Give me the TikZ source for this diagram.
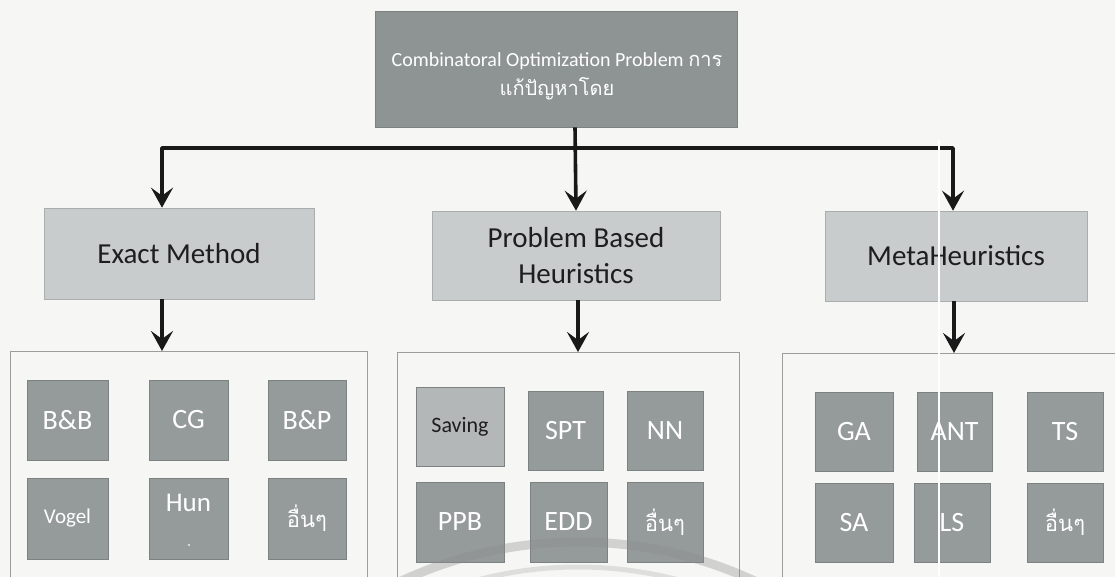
\documentclass[tikz,border=0pt]{standalone}
\usepackage{fontspec}
\setmainfont{Carlito}
\newfontfamily\thaifont[Script=Thai]{Loma}
\usetikzlibrary{arrows.meta}

\definecolor{paper}{HTML}{F6F6F4}
\definecolor{topfill}{HTML}{8E9494}
\definecolor{midfill}{HTML}{C9CCCC}
\definecolor{midedge}{HTML}{A9ADAD}
\definecolor{cellfill}{HTML}{959B9B}
\definecolor{celledge}{HTML}{7C8282}
\definecolor{lightcell}{HTML}{B3B7B7}
\definecolor{frame}{HTML}{9C9E9E}
\definecolor{ink}{HTML}{1E1E1E}
\definecolor{sealgray}{HTML}{8C8C8C}

\tikzset{
  topbox/.style={fill=topfill, draw=celledge, line width=0.6pt, text=white,
    align=center, inner sep=0pt},
  midbox/.style={fill=midfill, draw=midedge, line width=0.6pt, text=ink,
    align=center, inner sep=0pt, font=\fontsize{29}{36}\selectfont},
  cell/.style={fill=cellfill, draw=celledge, line width=0.6pt, text=white,
    inner sep=0pt, font=\fontsize{28}{30}\selectfont},
  groupframe/.style={draw=frame, line width=0.8pt, fill=paper},
  link/.style={draw=black!90, line width=3.6pt},
  linkarrow/.style={link, -{Stealth[length=20pt,width=22pt,inset=8pt]}},
  seal/.style={draw=sealgray, opacity=0.35},
}

\begin{document}
\begin{tikzpicture}[x=1pt,y=-1pt]
\useasboundingbox (0,0) rectangle (1115,577);
\fill[paper] (0,0) rectangle (1115,577);

\begin{scope}
\clip (0,0) rectangle (1115,577);

% root problem
\node[topbox, minimum width=362pt, minimum height=116pt] (root) at (556,69) {};
\node[text=white, align=center, inner sep=0pt,
      font=\fontsize{20}{29}\selectfont] (rootlabel) at (557,76)
  {Combinatoral Optimization Problem {\thaifont การ}\\{\thaifont แก้ปัญหาโดย}};

% three families of methods
\node[midbox, minimum width=270pt, minimum height=91pt] (exact) at (179,253.5) {Exact Method};
\node[midbox, minimum width=288pt, minimum height=89pt] (pbh) at (576,255.5) {Problem Based\\Heuristics};
\node[midbox, minimum width=262pt, minimum height=90pt] (meta) at (956,256) {MetaHeuristics};

% group frames (open at the bottom of the page)
\draw[groupframe] (10,351) rectangle (367,620);
\draw[groupframe] (397,352) rectangle (739,620);
\draw[groupframe] (782,353) rectangle (1140,620);
\coordinate (g1) at (162,351);
\coordinate (g2) at (578,352);
\coordinate (g3) at (954,353);

% exact methods
\node[cell, minimum width=81pt, minimum height=80pt] (bb)  at (67.5,420) {B\&B};
\node[cell, minimum width=79pt, minimum height=80pt] (cg)  at (188.5,420) {CG};
\node[cell, minimum width=78pt, minimum height=80pt] (bp)  at (307,420) {B\&P};
\node[cell, minimum width=81pt, minimum height=81pt, font=\fontsize{21}{24}\selectfont] (vogel) at (67.5,518.5) {Vogel};
\node[cell, minimum width=79pt, minimum height=81pt] (hun) at (188.5,518.5) {};
\node[text=white, inner sep=0pt, font=\fontsize{27}{30}\selectfont] (hunlabel) at (188.5,503) {Hun};
\fill[white!85!cellfill] (189,545) circle[radius=1.1pt];
\node[cell, minimum width=78pt, minimum height=81pt, font=\thaifont\fontsize{22}{26}\selectfont] (ex6) at (307,518.5) {อื่นๆ};

% problem based heuristics
\node[cell, fill=lightcell, text=ink, minimum width=88pt, minimum height=79pt,
      font=\fontsize{22}{24}\selectfont] (saving) at (460,426.5) {Saving};
\node[cell, minimum width=75pt, minimum height=79pt] (spt) at (565.5,430.5) {SPT};
\node[cell, minimum width=76pt, minimum height=79pt] (nn)  at (665,430.5) {NN};
\node[cell, minimum width=88pt, minimum height=80pt] (ppb) at (460,522) {PPB};
\node[cell, minimum width=77pt, minimum height=80pt] (edd) at (568.5,522) {EDD};
\node[cell, minimum width=76pt, minimum height=80pt, font=\thaifont\fontsize{22}{26}\selectfont] (pb6) at (665,522) {อื่นๆ};

% metaheuristics
\node[cell, minimum width=78pt, minimum height=79pt] (ga)  at (854,431.5) {GA};
\node[cell, minimum width=75pt, minimum height=79pt] (ant) at (954.5,431.5) {ANT};
\node[cell, minimum width=76pt, minimum height=79pt] (ts)  at (1065,431.5) {TS};
\node[cell, minimum width=78pt, minimum height=79pt] (sa)  at (854,522.5) {SA};
\node[cell, minimum width=76pt, minimum height=79pt] (ls)  at (952,522.5) {LS};
\node[cell, minimum width=76pt, minimum height=79pt, font=\thaifont\fontsize{22}{26}\selectfont] (mh6) at (1065,522.5) {อื่นๆ};

% connectors from the root to the three families
\coordinate (busleft) at (162,148);
\coordinate (busright) at (953,148);
\draw[link, {Stealth[length=20pt,width=22pt,inset=8pt]}-{Stealth[length=20pt,width=22pt,inset=8pt]}, line join=round]
  (exact.north -| busleft) -- (busleft) -- (busright) -- (meta.north -| busright);
\draw[linkarrow] (root.south -| pbh.north) ++(-1,0) -- (pbh.north);

% connectors from each family to its group
\draw[linkarrow] (exact.south -| g1) -- (g1);
\draw[linkarrow] (pbh.south -| g2) -- (g2);
\draw[linkarrow] (meta.south -| g3) -- (g3);

% scanner streak through the right column
\draw[white, line width=1.3pt] (939,140) -- (939,577);

% faint seal printed across the lower middle
\draw[seal, line width=9pt] (578,960) circle[radius=418];
\draw[seal, line width=5pt, opacity=0.22] (578,960) circle[radius=393];
\end{scope}
\end{tikzpicture}
\end{document}
